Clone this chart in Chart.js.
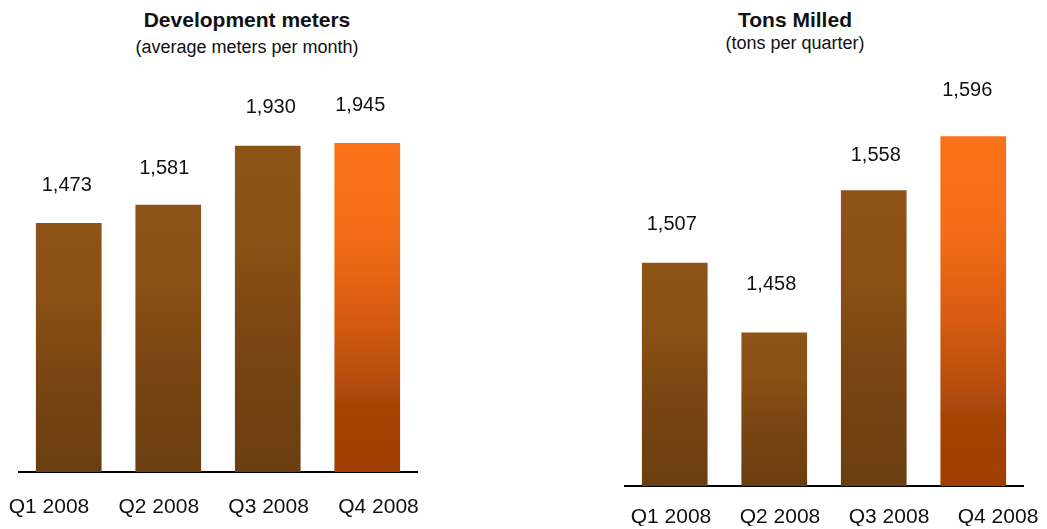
<!DOCTYPE html>
<html>
<head>
<meta charset="utf-8">
<script src="https://cdn.jsdelivr.net/npm/chart.js@4/dist/chart.umd.min.js"></script>
<style>
  html, body { margin: 0; padding: 0; background: #fff; overflow: hidden; }
  #wrap { position: relative; width: 1047px; height: 529px; font-family: Arial, "Liberation Sans", sans-serif; color: #111; }
  canvas { position: absolute; top: 0; }
  .title { position: absolute; width: 400px; text-align: center; font-weight: bold; font-size: 21px; line-height: 24px; top: 8px; }
  .sub { position: absolute; width: 400px; text-align: center; font-size: 18px; line-height: 22px; }
</style>
</head>
<body>
<div id="wrap">
  <div class="title" style="left:47px">Development meters</div>
  <div class="sub" style="left:47px; top:36px">(average meters per month)</div>
  <div class="title" style="left:595px">Tons Milled</div>
  <div class="sub" style="left:595px; top:32px">(tons per quarter)</div>
  <canvas id="devChart" width="520" height="529" style="left:0"></canvas>
  <canvas id="tonsChart" width="527" height="529" style="left:520px"></canvas>
</div>
<script>
const quarters = ['Q1 2008', 'Q2 2008', 'Q3 2008', 'Q4 2008'];
const devMeters = [1473, 1581, 1930, 1945];
const tonsMilled = [1507, 1458, 1558, 1596];

const FONT = 'Arial, "Liberation Sans", sans-serif';

const brownStops = [[0, '#8e5316'], [0.3, '#8a5014'], [0.6, '#7a4512'], [1, '#6a3e11']];
const orangeStops = [[0, '#fa7118'], [0.25, '#f56e17'], [0.5, '#db5d11'], [0.7, '#b94e0d'],
                     [0.76, '#ae4a10'], [0.8, '#a74300'], [1, '#a03e00']];

// each bar gets its own top-to-bottom gradient; the last quarter is orange
function barFill(c) {
  const stops = c.dataIndex === 3 ? orangeStops : brownStops;
  const chart = c.chart;
  if (!chart.chartArea || c.type !== 'data') return stops[0][1];
  const y = chart.scales.y;
  const top = y.getPixelForValue(c.raw);
  const bottom = y.getPixelForValue(y.min);
  const g = chart.ctx.createLinearGradient(0, top, 0, bottom);
  stops.forEach(([o, col]) => g.addColorStop(o, col));
  return g;
}

// value labels above each bar
const valueLabels = {
  id: 'valueLabels',
  afterDatasetsDraw(chart, args, opts) {
    const ctx = chart.ctx;
    const meta = chart.getDatasetMeta(0);
    const values = chart.data.datasets[0].data;
    ctx.save();
    ctx.font = '20px ' + FONT;
    ctx.fillStyle = '#111';
    ctx.textAlign = 'center';
    ctx.textBaseline = 'middle';
    meta.data.forEach((bar, i) => {
      ctx.fillText(values[i].toLocaleString('en-US'), bar.x + opts.dx[i], bar.y - opts.dy[i]);
    });
    ctx.restore();
  }
};

function makeChart(id, values, yMin, yMax, padding, labelRange, labelPad, axisHeight, dx, dy) {
  return new Chart(document.getElementById(id), {
    type: 'bar',
    data: {
      labels: quarters,
      datasets: [{
        data: values,
        backgroundColor: barFill,
        borderWidth: 0,
        barPercentage: 0.66,
        categoryPercentage: 1,
      }],
    },
    options: {
      responsive: false,
      animation: false,
      layout: { padding },
      plugins: {
        legend: { display: false },
        tooltip: { enabled: false },
        valueLabels: { dx, dy },
      },
      scales: {
        y: { display: false, min: yMin, max: yMax },
        x: {
          grid: { display: false, drawTicks: false },
          border: { display: true, color: '#000', width: 2 },
          ticks: { display: false },
        },
        // quarter names sit on their own spacing, a bit wider than the bars
        xl: {
          type: 'linear',
          position: 'bottom',
          offset: false,
          min: labelRange[0],
          max: labelRange[1],
          grid: { display: false, drawTicks: false, offset: false },
          border: { display: false },
          ticks: {
            stepSize: 1,
            includeBounds: false,
            autoSkip: false,
            maxRotation: 0,
            padding: labelPad,
            color: '#111',
            font: { family: FONT, size: 21 },
            callback: (v) => quarters[v] ?? '',
          },
          afterFit(scale) {
            scale.height = axisHeight;
            scale.paddingLeft = 0;
            scale.paddingRight = 0;
          },
        },
      },
    },
    plugins: [valueLabels],
  });
}

makeChart('devChart', devMeters, 0, 2200,
  { left: 19, right: 103, top: 100, bottom: 7 },
  [-0.273, 3.351], 23, 50,
  [-2, -4, 3, -7], [37, 36, 38, 38]);

makeChart('tonsChart', tonsMilled, 1350, 1620,
  { left: 105, right: 24, top: 102, bottom: 3 },
  [-0.422, 3.229], 19, 40,
  [-3, -3, 2, -6], [38, 48, 35, 46]);
</script>
</body>
</html>
